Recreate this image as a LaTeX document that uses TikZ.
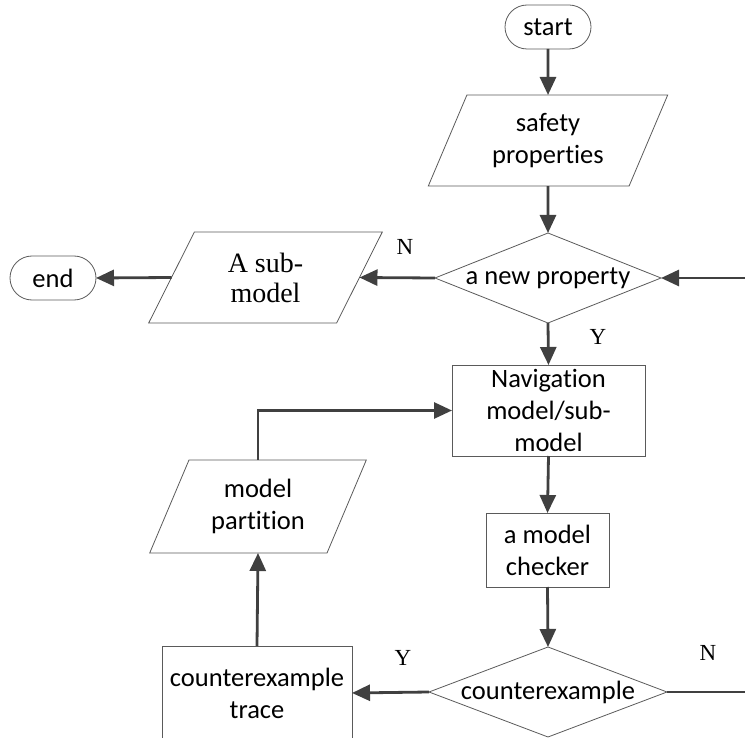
\documentclass[tikz,border=0pt]{standalone}
\usepackage{fontspec}
\setmainfont{Carlito}[Ligatures={NoCommon,NoContextual}]
\newfontfamily\timesfont{Liberation Serif}
\usetikzlibrary{shapes.geometric,arrows.meta}
\definecolor{flowline}{HTML}{404040}
\definecolor{shapeline}{HTML}{5A5A5A}
\begin{document}
\begin{tikzpicture}[x=1pt,y=-1pt,
  every node/.style={font=\fontsize{26.5}{32}\selectfont},
  shapebase/.style={draw=shapeline, line width=0.8pt, align=center, inner sep=0pt, outer sep=0pt},
  terminal/.style={shapebase, rectangle, rounded corners=22pt, minimum width=86pt, minimum height=44pt},
  process/.style={shapebase, rectangle},
  data/.style={shapebase, trapezium, trapezium left angle=64, trapezium right angle=116, trapezium stretches=true},
  decision/.style={shapebase, diamond},
  flow/.style={draw=flowline, line width=2.8pt, -{Triangle[length=18pt,width=16pt]}},
  plainflow/.style={draw=flowline, line width=2.8pt},
  branch/.style={font=\timesfont\fontsize{23}{26}\selectfont}
]
\useasboundingbox (0,0) rectangle (745,738);

% main column
\node[terminal] (start) at (548,27) {start};
\node[data, minimum width=240pt, minimum height=91pt] (safety) at (548,140.5) {safety\\properties};
\node[decision, minimum width=226pt, minimum height=90pt] (newprop) at (548,278) {\makebox[0pt]{a new property}};
\node[process, minimum width=193pt, minimum height=91pt] (nav) at (548.5,410.5) {Navigation\\model/sub-\\model};
\node[process, minimum width=123pt, minimum height=74pt] (checker) at (547.5,550) {a model\\checker};
\node[decision, minimum width=238pt, minimum height=90pt] (cex) at (548,692) {\makebox[0pt]{counterexample}};

% left branch
\node[data, minimum width=234pt, minimum height=91pt, font=\timesfont\fontsize{28}{30}\selectfont] (sub) at (265.5,277.5) {A sub-\\model};
\node[terminal] (end) at (53,278) {end};
\node[data, minimum width=217pt, minimum height=93pt] (part) at (258,506.5) {model\\partition};
\node[process, minimum width=190pt, minimum height=94pt] (trace) at (257,693) {counterexample\\trace};

% loop ends at the right border
\coordinate (loopin) at (745,278);
\coordinate (loopout) at (745,692);

% branch labels
\node[branch] (n1) at (405,247) {N};
\node[branch] (y1) at (598,337) {Y};
\node[branch] (y2) at (403,658) {Y};
\node[branch] (n2) at (708,653) {N};

% connectors
\draw[flow] (start) -- (safety);
\draw[flow] (safety) -- (newprop);
\draw[flow] (loopin) -- (newprop.east);
\draw[flow] (newprop.west) -- (sub.east);
\draw[flow] (sub.west) -- (end.east);
\draw[flow] (newprop.south) -- (nav.north);
\draw[flow] (nav.south) -- (checker.north);
\draw[flow] (checker.south) -- (cex.north);
\draw[flow] (cex.west) -- (trace.east);
\draw[flow] (trace.north) -- (part.south);
\draw[flow] (part.north) |- (nav.west);
\draw[plainflow] (cex.east) -- (loopout);
\end{tikzpicture}
\end{document}
